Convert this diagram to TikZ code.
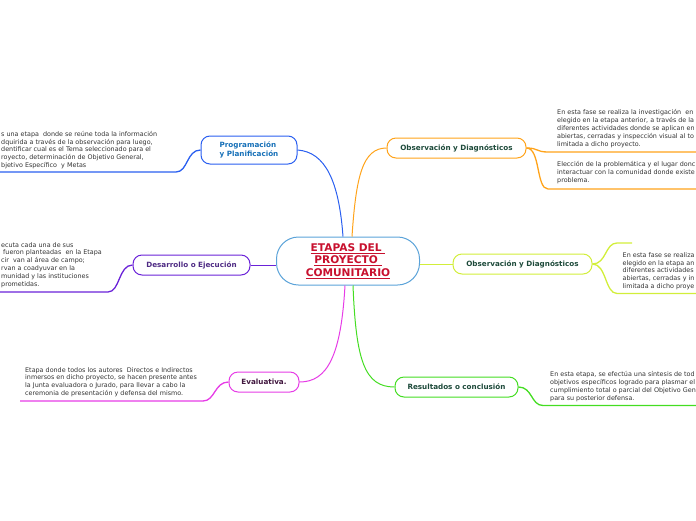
\documentclass[tikz,border=0pt]{standalone}
\usepackage{fontspec}
\setmainfont{DejaVu Sans}
\usetikzlibrary{positioning}

\definecolor{centerline}{HTML}{5BA3D9}
\definecolor{titlered}{HTML}{C8102E}
\definecolor{progblue}{HTML}{2A5FF0}
\definecolor{progtext}{HTML}{1670B8}
\definecolor{devpurple}{HTML}{6A22D8}
\definecolor{devtext}{HTML}{4E2A84}
\definecolor{evalpink}{HTML}{E63CE6}
\definecolor{evaltext}{HTML}{40163E}
\definecolor{obsorange}{HTML}{FFA31A}
\definecolor{obslime}{HTML}{D2EE3A}
\definecolor{resgreen}{HTML}{44DD22}
\definecolor{topictext}{HTML}{1D4A3A}
\definecolor{leaftext}{HTML}{333333}

\tikzset{
  topic/.style={draw, line width=1pt, rounded corners=9pt, fill=white,
    minimum height=20pt, inner sep=3pt, align=center,
    font=\fontsize{7.2}{8.8}\selectfont\bfseries},
  leaf/.style={text=leaftext, align=left, inner sep=0pt, anchor=base west,
    font=\fontsize{6.4}{7.8}\selectfont},
  branch/.style={line width=1pt},
  twig/.style={line width=1.3pt}
}

\begin{document}
\begin{tikzpicture}[x=1pt,y=-1pt]
\useasboundingbox (0,0) rectangle (696,520);
\clip (0,0) rectangle (696,520);

% Tema central
\node[draw=centerline, line width=1pt, rounded corners=22pt, fill=white,
  minimum width=143pt, minimum height=48pt, text=titlered, align=center,
  font=\fontsize{10.6}{12.4}\selectfont\bfseries]
(tema)
at (348,261)
{\underline{ETAPAS DEL\ }\\\underline{PROYECTO\ }\\\underline{COMUNITARIO}};

% Etapas
\node[topic, draw=progblue, text=progtext, minimum width=96pt,
  minimum height=28pt, align=left]
(prog)
at (249,150)
{Programación\\y Planificación};

\node[topic, draw=devpurple, text=devtext, minimum width=117pt]
(desa)
at (191.5,265)
{Desarrollo o Ejecución};

\node[topic, draw=evalpink, text=evaltext, minimum width=70pt]
(eval)
at (264,382)
{Evaluativa.};

\node[topic, draw=obsorange, text=topictext, minimum width=139pt]
(obsa)
at (456.5,148)
{Observación y Diagnósticos};

\node[topic, draw=obslime, text=topictext, minimum width=139pt]
(obsb)
at (522.5,264)
{Observación y Diagnósticos};

\node[topic, draw=resgreen, text=topictext, minimum width=123pt]
(resu)
at (456.5,387)
{Resultados o conclusión};

\draw[branch,progblue] ([xshift=-5pt]tema.north) .. controls +(-4,-55) and +(28,2) .. (prog.east);
\draw[branch,obsorange] ([xshift=4pt]tema.north) .. controls +(4,-60) and +(-24,0) .. (obsa.west);
\draw[branch,devpurple] (desa.east) -- (desa.east -| tema.west);
\draw[branch,obslime] (obsb.west -| tema.east) -- (obsb.west);
\draw[branch,evalpink] ([xshift=-3pt]tema.south) .. controls +(-4,70) and +(28,0) .. (eval.east);
\draw[branch,resgreen] ([xshift=5pt]tema.south) .. controls +(3,75) and +(-30,0) .. (resu.west);

% Textos (anclados en la ultima linea)
\node[leaf] (progtxt) at (1,167.5)
{s una etapa\ \ donde se reúne toda la información\\
dquirida a través de la observación para luego,\\
dentificar cual es el Tema seleccionado para el\\
royecto, determinación de Objetivo General,\\
bjetivo Específico\ \ y Metas};

\node[leaf] (desatxt) at (1,286)
{ecuta cada una de sus\\
\hspace{2pt}fueron planteadas\ \ en la Etapa\\
cir\ \ van al área de campo;\\
rvan a coadyuvar en la\\
munidad y las instituciones\\
prometidas.};

\node[leaf] (evaltxt) at (25,395.5)
{Etapa donde todos los autores\ \ Directos e Indirectos\\
inmersos en dicho proyecto, se hacen presente antes\\
la Junta evaluadora o Jurado, para llevar a cabo la\\
ceremonia de presentación y defensa del mismo.};

\node[leaf] (obsatxt) at (557,146)
{En esta fase se realiza la investigación\ \ en\\
elegido en la etapa anterior, a través de la\\
diferentes actividades donde se aplican en\\
abiertas, cerradas y inspección visual al to\\
limitada a dicho proyecto.};

\node[leaf] (obsctxt) at (557,182.5)
{Elección de la problemática y el lugar donc\\
interactuar con la comunidad donde existe\\
problema.};

\node[leaf] (obsbtxt) at (622.5,288.5)
{En esta fase se realiza\\
elegido en la etapa an\\
diferentes actividades\\
abiertas, cerradas y in\\
limitada a dicho proye};

\node[leaf] (resutxt) at (550,400)
{En esta etapa, se efectúa una síntesis de tod\\
objetivos específicos logrado para plasmar el\\
cumplimiento total o parcial del Objetivo Gen\\
para su posterior defensa.};

% Subrayados
\coordinate (progend) at (176,172);
\coordinate (progcut) at (0,172);
\coordinate (desaend) at (108,292);
\coordinate (desacut) at (0,292);
\coordinate (evalend) at (203,401);
\coordinate (evalcut) at (20,401);
\coordinate (obsaend) at (548,152);
\coordinate (obsacut) at (696,152);
\coordinate (obscend) at (548,189);
\coordinate (obsccut) at (696,189);
\coordinate (obsbend) at (617,243);
\coordinate (obsbcut) at (632,243);
\coordinate (obsdend) at (617,293.5);
\coordinate (obsdcut) at (696,293.5);
\coordinate (resuend) at (543,405.5);
\coordinate (resucut) at (696,405.5);

\draw[twig,progblue] (prog.west) .. controls +(-14,0) and +(12,0) .. (progend) -- (progcut);
\draw[twig,devpurple] (desa.west) .. controls +(-14,0) and +(12,0) .. (desaend) -- (desacut);
\draw[twig,evalpink] (eval.west) .. controls +(-14,0) and +(12,0) .. (evalend) -- (evalcut);
\draw[twig,obsorange] (obsa.east) .. controls +(12,0) and +(-12,0) .. (obsaend) -- (obsacut);
\draw[twig,obsorange] (obsa.east) .. controls +(14,0) and +(-12,0) .. (obscend) -- (obsccut);
\draw[twig,obslime] (obsb.east) .. controls +(14,0) and +(-12,0) .. (obsbend) -- (obsbcut);
\draw[twig,obslime] (obsb.east) .. controls +(14,0) and +(-12,0) .. (obsdend) -- (obsdcut);
\draw[twig,resgreen] (resu.east) .. controls +(14,0) and +(-12,0) .. (resuend) -- (resucut);

\end{tikzpicture}
\end{document}
